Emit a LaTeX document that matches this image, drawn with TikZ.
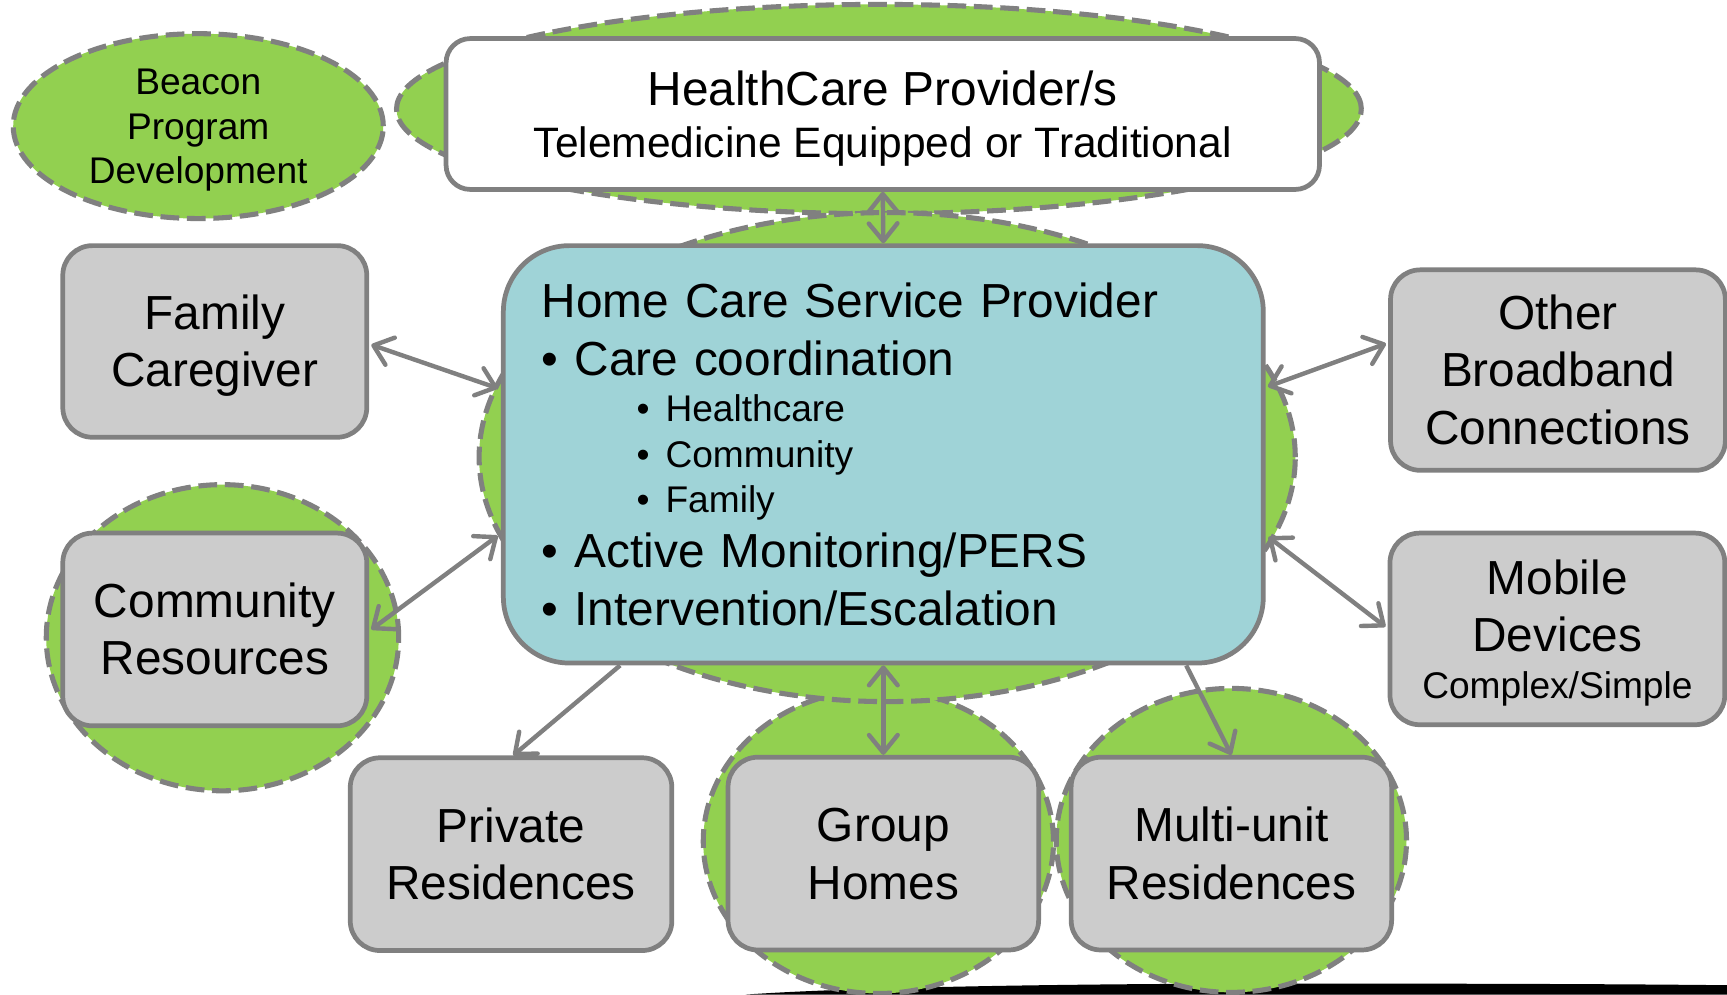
\documentclass[tikz,border=0pt]{standalone}
\usepackage{fontspec}
\setmainfont{Liberation Sans}
\usetikzlibrary{arrows.meta,calc,shapes.geometric}
\definecolor{leaf}{HTML}{92D050}
\definecolor{edgegray}{HTML}{808080}
\definecolor{boxgray}{HTML}{CCCCCC}
\definecolor{aqua}{HTML}{9FD3D7}
\newcommand\fbig{\fontsize{43.4}{52}\selectfont}
\newcommand\fsmall{\fontsize{33.7}{40.6}\selectfont}
\newcommand\fmid{\fontsize{38.6}{45}\selectfont}
\newcommand\sst{\rule[-0.2em]{0pt}{1.105em}}
\tikzset{
 blob/.style={ellipse, fill=leaf, draw=edgegray, line width=4.6pt, dash pattern=on 17pt off 7pt, inner sep=0pt, align=center},
 gbox/.style={rectangle, rounded corners=27pt, fill=boxgray, draw=edgegray, line width=4.3pt, inner sep=0pt, align=center, font=\fbig},
 duplex/.style={draw=edgegray, line width=4pt, {Straight Barb[length=16pt,width=26pt,round]}-{Straight Barb[length=16pt,width=26pt,round]}},
 simplex/.style={draw=edgegray, line width=4pt, -{Straight Barb[length=16pt,width=26pt,round]}},
}
\begin{document}
\begin{tikzpicture}[x=1pt,y=-1pt]
\useasboundingbox (0,0) rectangle (1568,903);
\fill[white] (0,0) rectangle (1568,903);
% black shape at the bottom
\fill[black] (677,903) .. controls (760,897) and (950,893) .. (1170,893) .. controls (1350,893) and (1480,893.5) .. (1568,894.5) -- (1568,903) -- cycle;
% green ellipses
\node[blob, minimum width=336pt, minimum height=161pt, font=\fsmall] (beacon) at (180,114.5) {\sst Beacon\\\sst Program\\\sst Development};
\node[blob, minimum width=318pt, minimum height=276pt] (grpblob) at (797.5,764) {};
\node[blob, minimum width=318pt, minimum height=276pt] (multiblob) at (1118,763) {};
\node[blob, minimum width=320pt, minimum height=278pt] (commblob) at (202,579) {};
\node[blob, minimum width=876pt, minimum height=190pt] (topblob) at (798,99) {};
\node[blob, minimum width=741pt, minimum height=444pt] (homeblob) at (805.5,415) {};
% boxes
\node[gbox, fill=white, rounded corners=22pt, minimum width=793pt, minimum height=137pt] (hcp) at (801.5,103.5)
 {\sst HealthCare Provider/s\\[-4.5pt]\fmid\sst Telemedicine Equipped or Traditional};
\node[gbox, fill=aqua, rounded corners=60pt, minimum width=690pt, minimum height=379pt, text width=620pt, align=left] (home) at (802,412.5) {%
\parindent=0pt
\fontsize{43.4}{52}\selectfont\sst Home Care Service Provider\par
\fontsize{43.4}{52.5}\selectfont\sst • Care coordination\par
\fontsize{33.7}{42.5}\selectfont\hspace*{86pt}\sst • Healthcare\par
\fontsize{33.7}{41}\selectfont\hspace*{86pt}\sst • Community\par
\hspace*{86pt}\sst • Family\par
\fontsize{43.4}{50.5}\selectfont\sst • Active Monitoring/PERS\par
\fontsize{43.4}{52}\selectfont\sst • Intervention/Escalation\par};
\node[gbox, minimum width=276pt, minimum height=174pt] (fam) at (195,310) {\sst Family\\\sst Caregiver};
\node[gbox, minimum width=276pt, minimum height=175pt] (comm) at (195,571.5) {\sst Community\\\sst Resources};
\node[gbox, minimum width=304pt, minimum height=182pt] (other) at (1414.5,336) {\sst Other\\\sst Broadband\\\sst Connections};
\node[gbox, minimum width=304pt, minimum height=174pt] (mob) at (1414,571) {\sst Mobile\\\sst Devices\\[-9.5pt]\fsmall\sst Complex/Simple};
\node[gbox, minimum width=292pt, minimum height=175pt] (priv) at (464,775.5) {\sst Private\\\sst Residences};
\node[gbox, minimum width=282pt, minimum height=175pt] (grp) at (802,775) {\sst Group\\\sst Homes};
\node[gbox, minimum width=291pt, minimum height=175pt] (multi) at (1118,775) {\sst Multi-unit\\\sst Residences};
% connectors
\draw[duplex] (hcp.south) -- (home.north);
\draw[duplex] ($(fam.east)+(2,3)$) -- ($(home.west)+(-3,-60)$);
\draw[duplex] ($(comm.east)+(2,0)$) -- ($(home.west)+(-3,74)$);
\draw[duplex] ($(other.west)+(-2,-24)$) -- ($(home.east)+(2,-61.5)$);
\draw[duplex] ($(mob.west)+(-2,-2)$) -- ($(home.east)+(2.5,75)$);
\draw[simplex] ($(home.south)+(-239,0)$) -- ($(priv.north)+(2,0)$);
\draw[duplex] (home.south) -- (grp.north);
\draw[simplex] ($(home.south)+(275,0)$) -- (multi.north);
\end{tikzpicture}
\end{document}
